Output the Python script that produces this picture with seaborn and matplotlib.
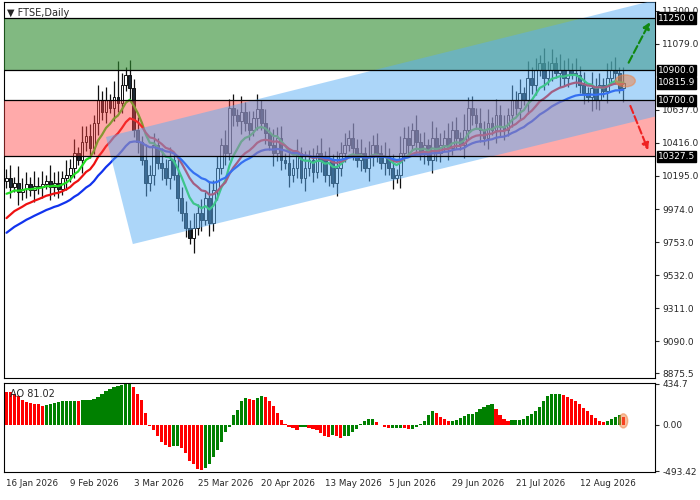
import numpy as np
import pandas as pd
import matplotlib
matplotlib.use("Agg")
import matplotlib.pyplot as plt
import seaborn as sns
from matplotlib.patches import Polygon, Ellipse

sns.set_style("white")
plt.rcParams['font.family'] = ['DejaVu Sans']

closes = [10180,10120,10150,10090,10110,10140,10100,10130,
          10120,10140,10160,10120,10150,10110,10180,10200,
          10250,10350,10300,10420,10460,10380,10550,10700,
          10620,10700,10650,10720,10680,10800,10870,10780,
          10500,10420,10300,10150,10200,10400,10280,10250,
          10180,10300,10200,10050,9950,9850,9780,9850,
          9950,9900,10050,9880,10100,10250,10400,10350,
          10650,10600,10560,10620,10550,10500,10580,10640,
          10550,10480,10400,10350,10450,10300,10280,10200,
          10250,10350,10180,10250,10300,10220,10350,10300,
          10200,10300,10150,10250,10350,10400,10450,10380,
          10300,10350,10250,10320,10400,10350,10280,10320,
          10250,10180,10200,10350,10450,10400,10500,10420,
          10350,10400,10300,10450,10350,10400,10450,10380,
          10500,10450,10400,10500,10650,10600,10550,10500,
          10450,10550,10500,10600,10520,10500,10600,10700,
          10650,10750,10700,10850,10800,10900,10950,10850,
          10900,10950,10880,10900,10850,10900,10880,10870,
          10800,10750,10720,10780,10700,10800,10760,10850,
          10900,10880,10780,10815]
wick_pattern = [60, 90, 40, 110, 70, 80, 50, 100]
ao_values = [350,345,320,300,260,240,230,220,
             215,200,210,220,230,240,245,250,
             250,250,245,260,260,265,270,290,
             320,360,380,400,410,420,434,434,
             400,320,260,120,-10,-60,-120,-180,
             -220,-240,-230,-230,-250,-300,-380,-420,
             -470,-480,-460,-420,-340,-270,-180,-80,
             -20,100,160,250,280,270,260,280,
             300,290,250,200,120,50,5,-20,
             -40,-60,-20,-20,-30,-50,-60,-90,
             -120,-130,-110,-120,-140,-120,-120,-80,
             -50,10,40,60,60,30,0,-20,
             -30,-30,-30,-30,-40,-50,-50,-20,
             10,40,100,140,120,80,60,40,
             40,50,70,90,110,110,130,170,
             190,210,220,170,100,60,40,50,
             50,50,60,90,110,140,190,250,
             300,320,320,320,310,290,270,250,
             220,180,140,100,70,40,30,40,
             60,80,100,81]
ma_seeds = [10050, 9880, 9790]
ma_spans = [9, 17, 30]
ma_colors = ['#22dd22', '#ee1111', '#1133ee']
levels = [11250.0, 10900.0, 10815.9, 10700.0, 10327.5]
price_ticks = [11300.0, 11079.0, 10637.0, 10416.0, 10195.0, 9974.0, 9753.0, 9532.0, 9311.0, 9090.0, 8875.5]
date_labels = ["16 Jan 2026","9 Feb 2026","3 Mar 2026","25 Mar 2026","20 Apr 2026",
               "13 May 2026","5 Jun 2026","29 Jun 2026","21 Jul 2026","12 Aug 2026"]
date_idx = [0,16,32,48,64,80,96,112,128,144]

n = len(closes)
idx = np.arange(n)
c = np.array(closes, float)
o = np.r_[closes[0] - 20, c[:-1]]
w = np.resize(wick_pattern, n)
hi = np.maximum(o, c) + w
lo = np.minimum(o, c) - w * 0.8
hi[28] = 10960; lo[47] = 9680

fig = plt.figure(figsize=(7, 5), dpi=100)
ax = fig.add_axes([0.005, 0.244, 0.931, 0.752])
ax2 = fig.add_axes([0.005, 0.056, 0.931, 0.178])

for i in range(n):
    ax.vlines(i, lo[i], hi[i], color='#111111', lw=0.9, zorder=1)
    up = c[i] >= o[i]
    bot = min(o[i], c[i]); h = max(abs(c[i]-o[i]), 8)
    ax.bar(i, h, bottom=bot, width=0.7, color='white' if up else '#1c2833',
           edgecolor='#111111', linewidth=0.7, zorder=1)

for seed, span, col in zip(ma_seeds, ma_spans, ma_colors):
    s = pd.Series(np.r_[seed, c]).ewm(span=span, adjust=False).mean().values[1:]
    sns.lineplot(x=idx, y=s, ax=ax, color=col, lw=1.6, zorder=2)

ax.axhspan(10900, 11250, color='#2e8b2e', alpha=0.6, zorder=3, lw=0)
ax.axhspan(10327.5, 10700, color='#ff4444', alpha=0.45, zorder=3, lw=0)
ax.add_patch(Polygon([(25, 10455), (163, 11370), (163, 10592), (31.75, 9740)],
                     closed=True, color='#5aaef5', alpha=0.5, lw=0, zorder=3))
for lv in [11250, 10900, 10700, 10327.5]:
    ax.axhline(lv, color='black', lw=0.9, zorder=4)

ax.annotate('', xy=(162, 11240), xytext=(156, 10935),
            arrowprops=dict(arrowstyle='-|>', ls='--', color='#118811', lw=1.5), zorder=5)
ax.annotate('', xy=(161.5, 10350), xytext=(156.5, 10680),
            arrowprops=dict(arrowstyle='-|>', ls='--', color='#ee2222', lw=1.5), zorder=5)
ax.add_patch(Ellipse((155.5, 10830), 5, 80, color='#f08040', alpha=0.5, zorder=5))

ax.set_xlim(-0.75, 163)
ax.set_ylim(8845, 11357)
ax.yaxis.tick_right()
ax.set_yticks(price_ticks)
ax.set_yticklabels([f"{t:.1f}" for t in price_ticks], fontsize=6.5)
ax.set_xticks([])
for lv in levels:
    ax.text(1.004, lv, f"{lv:.1f}", transform=ax.get_yaxis_transform(), fontsize=6.5,
            color='white', va='center', ha='left',
            bbox=dict(boxstyle='square,pad=0.12', fc='black', ec='black'))
ax.text(0.005, 0.985, "▼ FTSE,Daily", transform=ax.transAxes, fontsize=7, va='top')

ao = np.array(ao_values, float)
cols = ['#ff0000' if i > 0 and ao[i] < ao[i-1] else '#008000' for i in range(n)]
cols[0] = '#ff0000'
ax2.bar(idx, ao, width=0.8, color=cols, linewidth=0)
ax2.add_patch(Ellipse((155, 40), 2.2, 150, color='#f08040', alpha=0.5, zorder=5))
ax2.set_xlim(-0.75, 163)
ax2.set_ylim(-500, 440)
ax2.yaxis.tick_right()
ax2.set_yticks([434.7, 0.0, -493.42])
ax2.set_yticklabels(["434.7", "0.00", "-493.42"], fontsize=6.5)
ax2.set_xticks(date_idx)
ax2.set_xticklabels(date_labels, fontsize=6.3, ha='left')
ax2.tick_params(axis='x', length=3, pad=2)
ax2.text(0.01, 0.93, "AO 81.02", transform=ax2.transAxes, fontsize=7, va='top')

for a in (ax, ax2):
    for sp in a.spines.values():
        sp.set_color('black'); sp.set_linewidth(0.8)
    a.tick_params(axis='y', length=3, pad=2)

fig.savefig("out.png", dpi=100)
